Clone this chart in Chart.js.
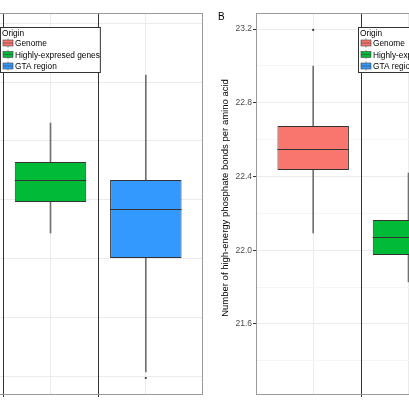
<!DOCTYPE html>
<html>
<head>
<meta charset="utf-8">
<script src="https://cdn.jsdelivr.net/npm/chart.js@4/dist/chart.umd.min.js"></script>
<style>
  body { margin: 0; background: #fff; overflow: hidden; width: 409px; height: 409px; position: relative; }
  canvas { position: absolute; top: 0; }
</style>
</head>
<body>
<canvas id="panelA" width="360" height="409" style="left:-153px"></canvas>
<canvas id="panelB" width="360" height="409" style="left:205px"></canvas>
<script>
const origins = ['Genome', 'Highly-expresed genes', 'GTA region'];

// Panel A: its y axis is cut off to the left, so values are in the panel's own grid units
const lowA  = [null, 1.216, 0.034];
const q1A   = [null, 1.480, 1.003];
const medA  = [null, 1.667, 1.420];
const q3A   = [null, 1.820, 1.667];
const highA = [null, 2.151, 2.560];
const outA  = [[], [], [-0.017]];

// Panel B: high-energy phosphate bonds per amino acid
const lowB  = [22.094, 21.828, null];
const q1B   = [22.435, 21.974, null];
const medB  = [22.549, 22.072, null];
const q3B   = [22.674, 22.164, null];
const highB = [22.999, 22.419, null];
const outB  = [[23.195], [], []];
const tickLabelsB = ['21.6', '22.0', '22.4', '22.8', '23.2'];

const boxColors = ['#f8766d', '#00ba38', '#3399ff'];
const FONT = "'Liberation Sans', Arial, sans-serif";
Chart.defaults.font.family = FONT;

// medians, vlines between groups, legend, panel border, tag and y title
const boxExtras = {
  id: 'boxExtras',
  beforeDatasetsDraw(chart) {
    const {ctx, chartArea, scales} = chart;
    ctx.save();
    ctx.strokeStyle = '#333';
    ctx.lineWidth = 1;
    for (let i = 1; i < origins.length; i++) {
      const x = Math.round(scales.x.getPixelForValue(i + 0.5)) + 0.5;
      ctx.beginPath();
      ctx.moveTo(x, chartArea.top);
      ctx.lineTo(x, chartArea.bottom + 3);
      ctx.stroke();
    }
    ctx.restore();
  },
  afterDatasetsDraw(chart) {
    const {ctx, chartArea, scales} = chart;
    const opts = chart.options.panel;
    const ds = chart.data.datasets[1];
    ctx.save();
    ctx.strokeStyle = '#333';
    ctx.lineWidth = 1;
    chart.getDatasetMeta(1).data.forEach((bar, j) => {
      const y = Math.round(scales.y.getPixelForValue(ds.data[j].med)) + 0.5;
      ctx.beginPath();
      ctx.moveTo(bar.x - bar.width / 2, y);
      ctx.lineTo(bar.x + bar.width / 2, y);
      ctx.stroke();
    });

    // legend
    const lx = chartArea.left + 102.5, ly = 27.5;
    ctx.font = '8.3px ' + FONT;
    const w = 15 + ctx.measureText(origins[1]).width;
    ctx.fillStyle = '#fff';
    ctx.fillRect(lx, ly, w, 45);
    ctx.strokeStyle = '#333';
    ctx.strokeRect(lx, ly, w, 45);
    ctx.fillStyle = '#000';
    ctx.fillText('Origin', lx + 1.5, ly + 8);
    origins.forEach((name, i) => {
      const cy = ly + 15.5 + i * 11.5;
      ctx.fillStyle = boxColors[i];
      ctx.fillRect(lx + 2.5, cy - 3, 10, 6);
      ctx.strokeStyle = '#444';
      ctx.lineWidth = 0.6;
      ctx.strokeRect(lx + 2.5, cy - 3, 10, 6);
      ctx.beginPath();
      ctx.moveTo(lx + 2.5, cy); ctx.lineTo(lx + 12.5, cy);
      ctx.moveTo(lx + 7.5, cy - 4.5); ctx.lineTo(lx + 7.5, cy - 3);
      ctx.moveTo(lx + 7.5, cy + 3); ctx.lineTo(lx + 7.5, cy + 4.5);
      ctx.stroke();
      ctx.fillStyle = '#000';
      ctx.fillText(name, lx + 14.5, cy + 3);
    });

    ctx.strokeStyle = '#9a9a9a';
    ctx.lineWidth = 1;
    ctx.strokeRect(chartArea.left + 0.5, chartArea.top + 0.5, chartArea.width - 1, chartArea.height);

    ctx.fillStyle = '#000';
    ctx.font = '10px ' + FONT;
    ctx.fillText(opts.tag, chartArea.left - 38, 20);
    if (opts.title) {
      ctx.font = '9.5px ' + FONT;
      ctx.translate(chartArea.left - 31, 198);
      ctx.rotate(-Math.PI / 2);
      ctx.textAlign = 'center';
      ctx.textBaseline = 'middle';
      ctx.fillText(opts.title, 0, 0);
    }
    ctx.restore();
  }
};

function makePanel(id, p) {
  const whiskers = [], boxes = [], dots = [];
  origins.forEach((name, i) => {
    if (p.q1[i] == null) return;
    whiskers.push({x: i + 1, y: [p.low[i], p.high[i]]});
    boxes.push({x: i + 1, y: [p.q1[i], p.q3[i]], med: p.med[i]});
    p.out[i].forEach(v => dots.push({x: i + 1, y: v}));
  });
  const isMajor = v => p.labels.length === 0 || p.labels.includes(v.toFixed(1));

  return new Chart(document.getElementById(id), {
    type: 'bar',
    data: {
      datasets: [
        {label: 'whiskers', data: whiskers, backgroundColor: '#707070', barThickness: 1, grouped: false, order: 3},
        {label: 'boxes', data: boxes, backgroundColor: c => boxColors[c.raw.x - 1],
         borderColor: '#333', borderWidth: 1, borderSkipped: false,
         barPercentage: 0.75, categoryPercentage: 1, grouped: false, order: 2},
        {type: 'scatter', label: 'outliers', data: dots, pointRadius: 1.1,
         backgroundColor: '#333', borderWidth: 0, order: 1}
      ]
    },
    options: {
      responsive: false,
      animation: false,
      panel: {tag: p.tag, title: p.title},
      layout: {padding: {top: 13, right: 0, left: 0, bottom: 0}},
      plugins: {legend: {display: false}, tooltip: {enabled: false}},
      scales: {
        x: {
          type: 'linear', min: 0.4, max: 3.6, offset: false,
          afterFit: s => { s.height = 15; },
          border: {display: false},
          grid: {offset: false, color: '#ebebeb', drawTicks: false},
          ticks: {stepSize: 1, includeBounds: false, display: false}
        },
        y: {
          min: p.yMin, max: p.yMax,
          afterFit: s => { s.width = 51; },
          border: {display: false},
          grid: {
            color: c => isMajor(c.tick.value) ? '#ebebeb' : '#f5f5f5',
            tickColor: c => isMajor(c.tick.value) ? '#333' : 'rgba(0,0,0,0)',
            tickLength: 3
          },
          ticks: {
            stepSize: p.step, includeBounds: false, display: p.labels.length > 0,
            color: '#4d4d4d', font: {size: 8.5}, padding: 1,
            callback: v => isMajor(v) ? v.toFixed(1) : ''
          }
        }
      }
    },
    plugins: [boxExtras]
  });
}

makePanel('panelA', {tag: 'A', title: '', yMin: -0.153, yMax: 3.087, step: 0.5, labels: [],
  low: lowA, q1: q1A, med: medA, q3: q3A, high: highA, out: outA});
makePanel('panelB', {tag: 'B', title: 'Number of high-energy phosphate bonds per amino acid',
  yMin: 21.22, yMax: 23.287, step: 0.2, labels: tickLabelsB,
  low: lowB, q1: q1B, med: medB, q3: q3B, high: highB, out: outB});
</script>
</body>
</html>
